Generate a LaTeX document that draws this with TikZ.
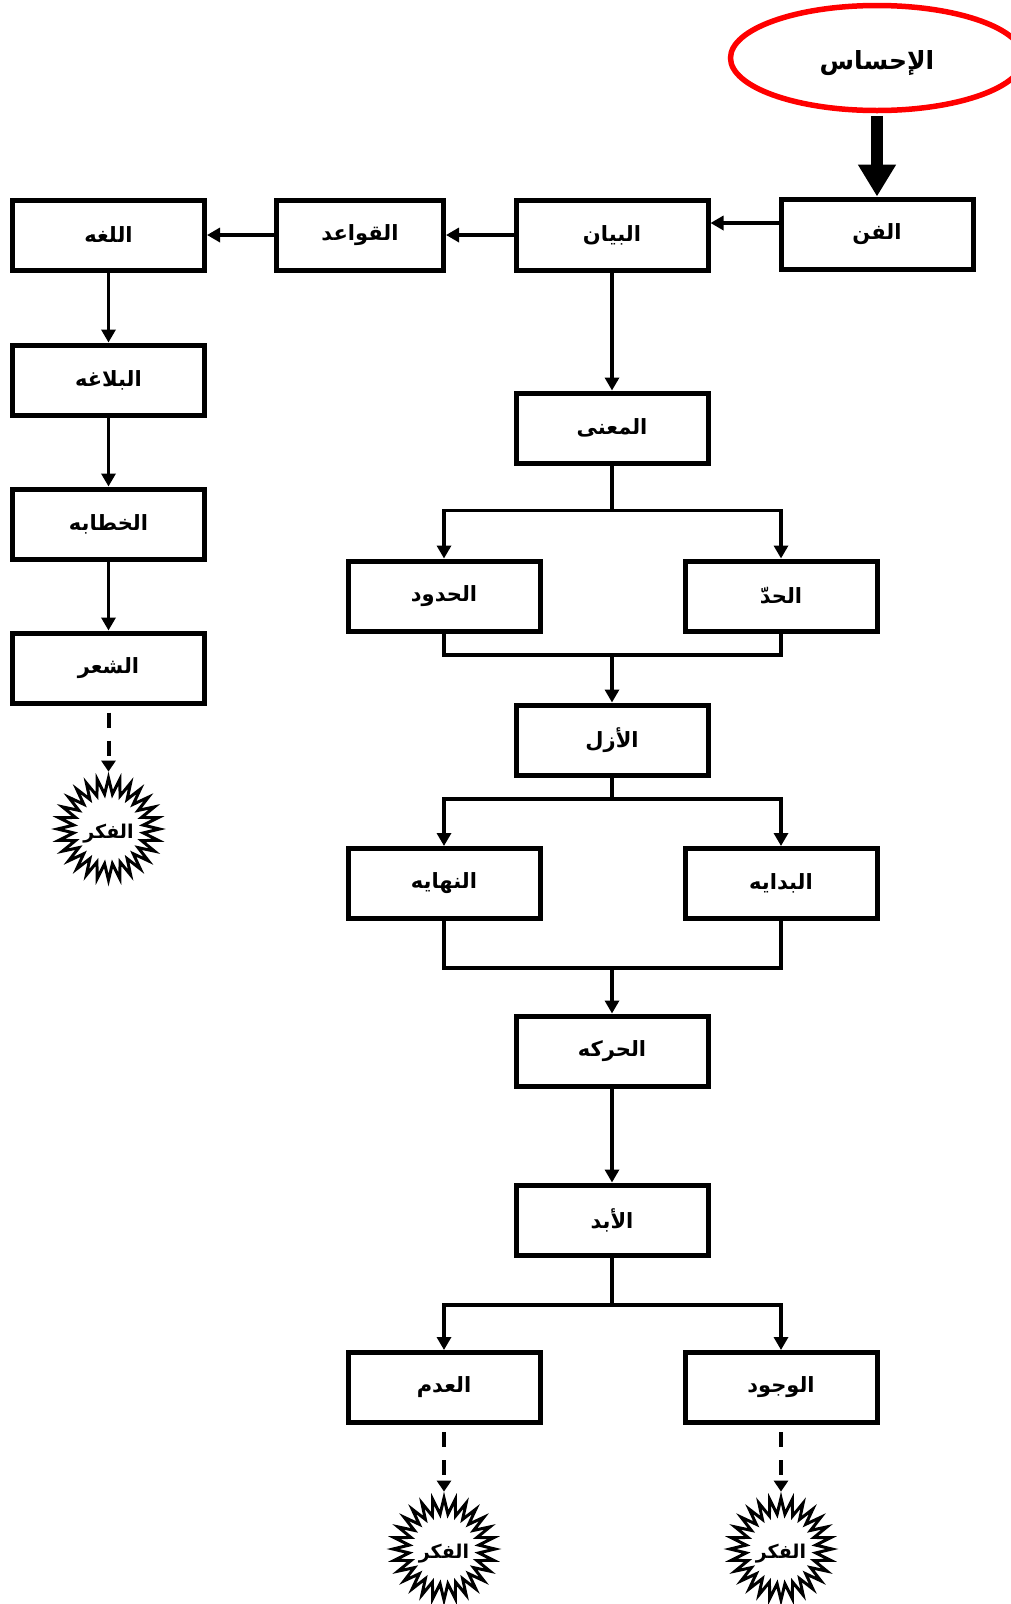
\documentclass[tikz,border=0pt]{standalone}
\usepackage{fontspec}
\usetikzlibrary{shapes.geometric,arrows.meta}
\newfontfamily\arabicfont[Script=Arabic]{DejaVu Sans}
\TeXXeTstate=1
\newcommand{\artext}[1]{\beginR #1\endR}
\newcommand{\lowered}[2]{\raisebox{-#1}[\height][\depth]{#2}}
\begin{document}
\begin{tikzpicture}[x=1pt,y=-1pt,
  box/.style={draw, line width=5pt, minimum width=192pt, minimum height=70pt, inner sep=0pt, fill=white,
    font=\arabicfont\bfseries\fontsize{21}{24}\selectfont},
  smallbox/.style={box, minimum width=167pt},
  burst/.style={star, star points=28, star point height=16pt, minimum size=102pt, inner sep=0pt,
    draw, line width=3pt, fill=white,
    label={[font=\arabicfont\bfseries\fontsize{19}{22}\selectfont, inner sep=0pt]center:\lowered{5pt}{\artext{#1}}}},
  oval/.style={ellipse, draw=red, line width=5.5pt, minimum width=293pt, minimum height=105pt, fill=white,
    font=\arabicfont\bfseries\fontsize{25}{28}\selectfont},
  line/.style={line width=3.5pt},
  conn/.style={line, -{Triangle[length=13pt,width=14pt]}},
  dashconn/.style={line width=4pt, dash pattern=on 15pt off 13pt, shorten <=7pt, -{Triangle[length=11pt,width=14pt]}},
  bigarrow/.style={line width=12pt, shorten <=2.5pt, -{Triangle[length=32pt,width=36pt]}}
]
\useasboundingbox (0,0) rectangle (1010,1604);

% nodes
\node[oval] (ihsas) at (877,58) {\lowered{5pt}{\artext{الإحساس}}};
\node[box] (fan) at (877,234) {\artext{الفن}};
\node[box] (bayan) at (612,235) {\artext{البيان}};
\node[smallbox] (qawaid) at (360,235) {\artext{القواعد}};
\node[box] (lugha) at (108.5,235) {\artext{اللغه}};
\node[box] (balagha) at (108.5,380) {\artext{البلاغه}};
\node[box] (khitaba) at (108.5,524) {\artext{الخطابه}};
\node[box] (shir) at (108.5,668) {\artext{الشعر}};
\node[burst={الفكر}] (fikrA) at (108.5,829) {};

\node[box] (maana) at (612,428) {\artext{المعنى}};
\node[box] (hudud) at (444,596) {\artext{الحدود}};
\node[box] (hadd) at (781,596) {\artext{الحدّ}};
\node[box] (azal) at (612,740) {\artext{الأزل}};
\node[box] (nihaya) at (444,883.5) {\artext{النهايه}};
\node[box] (bidaya) at (781,883.5) {\artext{البدايه}};
\node[box] (haraka) at (612,1051) {\artext{الحركه}};
\node[box] (abad) at (612,1220) {\artext{الأبد}};
\node[box] (adam) at (444,1387.5) {\artext{العدم}};
\node[box] (wujud) at (781,1387.5) {\artext{الوجود}};
\node[burst={الفكر}] (fikrB) at (444,1549) {};
\node[burst={الفكر}] (fikrC) at (781,1549) {};

% junction coordinates
\coordinate (s1) at (612,510.6);
\coordinate (j1) at (612,655);
\coordinate (s2) at (612,799);
\coordinate (j2) at (612,968);
\coordinate (s3) at (612,1305);

% connectors
\draw[bigarrow] (ihsas.south) -- (fan.north);
\draw[conn] ([yshift=11pt]fan.west) -- ([yshift=12pt]bayan.east);
\draw[conn] (bayan.west) -- (qawaid.east);
\draw[conn] (qawaid.west) -- (lugha.east);
\draw[conn] (lugha.south) -- (balagha.north);
\draw[conn] (balagha.south) -- (khitaba.north);
\draw[conn] (khitaba.south) -- (shir.north);
\draw[dashconn] (shir.south) -- (fikrA.north);

\draw[conn] (bayan.south) -- (maana.north);
\draw[line] (maana.south) -- (s1);
\draw[conn] (s1) -| (hudud.north);
\draw[conn] (s1) -| (hadd.north);
\draw[line] (hudud.south) |- (j1) -| (hadd.south);
\draw[conn] (j1) -- (azal.north);

\draw[line] (azal.south) -- (s2);
\draw[conn] (s2) -| (nihaya.north);
\draw[conn] (s2) -| (bidaya.north);
\draw[line] (nihaya.south) |- (j2) -| (bidaya.south);
\draw[conn] (j2) -- (haraka.north);

\draw[conn] (haraka.south) -- (abad.north);
\draw[line] (abad.south) -- (s3);
\draw[conn] (s3) -| (adam.north);
\draw[conn] (s3) -| (wujud.north);
\draw[dashconn] (adam.south) -- (fikrB.north);
\draw[dashconn] (wujud.south) -- (fikrC.north);
\end{tikzpicture}
\end{document}
